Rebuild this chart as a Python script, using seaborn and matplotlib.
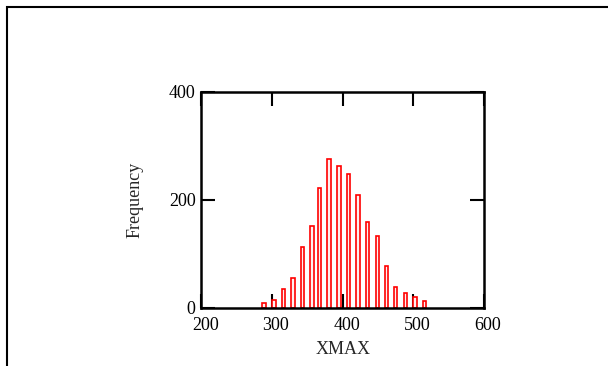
import numpy as np
import pandas as pd
import matplotlib
matplotlib.use("Agg")
import matplotlib.pyplot as plt
import matplotlib.transforms as mtransforms
from matplotlib.patches import Rectangle
import seaborn as sns

sns.set_style("ticks")
plt.rcParams["font.family"] = ["Liberation Serif", "DejaVu Serif"]

# === data ===
bin_centers = [289, 303, 316, 330, 343, 357, 367, 381, 395, 408, 422, 435, 449, 462, 475, 489, 502, 516]
frequency = [8, 15, 35, 55, 112, 152, 222, 275, 262, 248, 208, 158, 132, 78, 38, 28, 19, 12]
x_ticks = [200, 300, 400, 500, 600]
y_ticks = [0, 200, 400]

df = pd.DataFrame({"XMAX": bin_centers, "Frequency": frequency})

fig = plt.figure(figsize=(6.08, 3.66), dpi=100)
fig.patch.set_facecolor("white")

# outer frame (runs off right and bottom edges)
fig.patches.append(Rectangle((6.5 / 608, -0.1), 1.2, 1 - 6.5 / 366 + 0.1,
                             transform=fig.transFigure, fill=False,
                             edgecolor="black", linewidth=1.5))

ax = fig.add_axes([201.3 / 608, 58.3 / 366, 282.7 / 608, 216 / 366])
sns.barplot(data=df, x="XMAX", y="Frequency", native_scale=True, width=0.5,
            saturation=1, color="#fff0f0", edgecolor="red", linewidth=1.2,
            errorbar=None, ax=ax)

ax.set_xlim(200, 600)
ax.set_ylim(0, 400)
ax.set_xticks(x_ticks)
ax.set_yticks(y_ticks)
ax.tick_params(direction="in", length=10, width=1.5, top=True, right=True,
               labelsize=13, colors="black")
ax.tick_params(axis="x", pad=6.5)
ax.tick_params(axis="y", pad=4)
for s in ax.spines.values():
    s.set_visible(True)
    s.set_linewidth(1.8)
    s.set_color("black")
ax.set_xlabel("XMAX", fontsize=13, labelpad=5)
ax.set_ylabel("Frequency", fontsize=13, labelpad=18)
ax.grid(False)

# x tick labels sit a touch right of their ticks in the reference
offset = mtransforms.ScaledTranslation(4 / 100, 0, fig.dpi_scale_trans)
for lbl in ax.get_xticklabels():
    lbl.set_transform(lbl.get_transform() + offset)

fig.savefig("out.png", dpi=100)
